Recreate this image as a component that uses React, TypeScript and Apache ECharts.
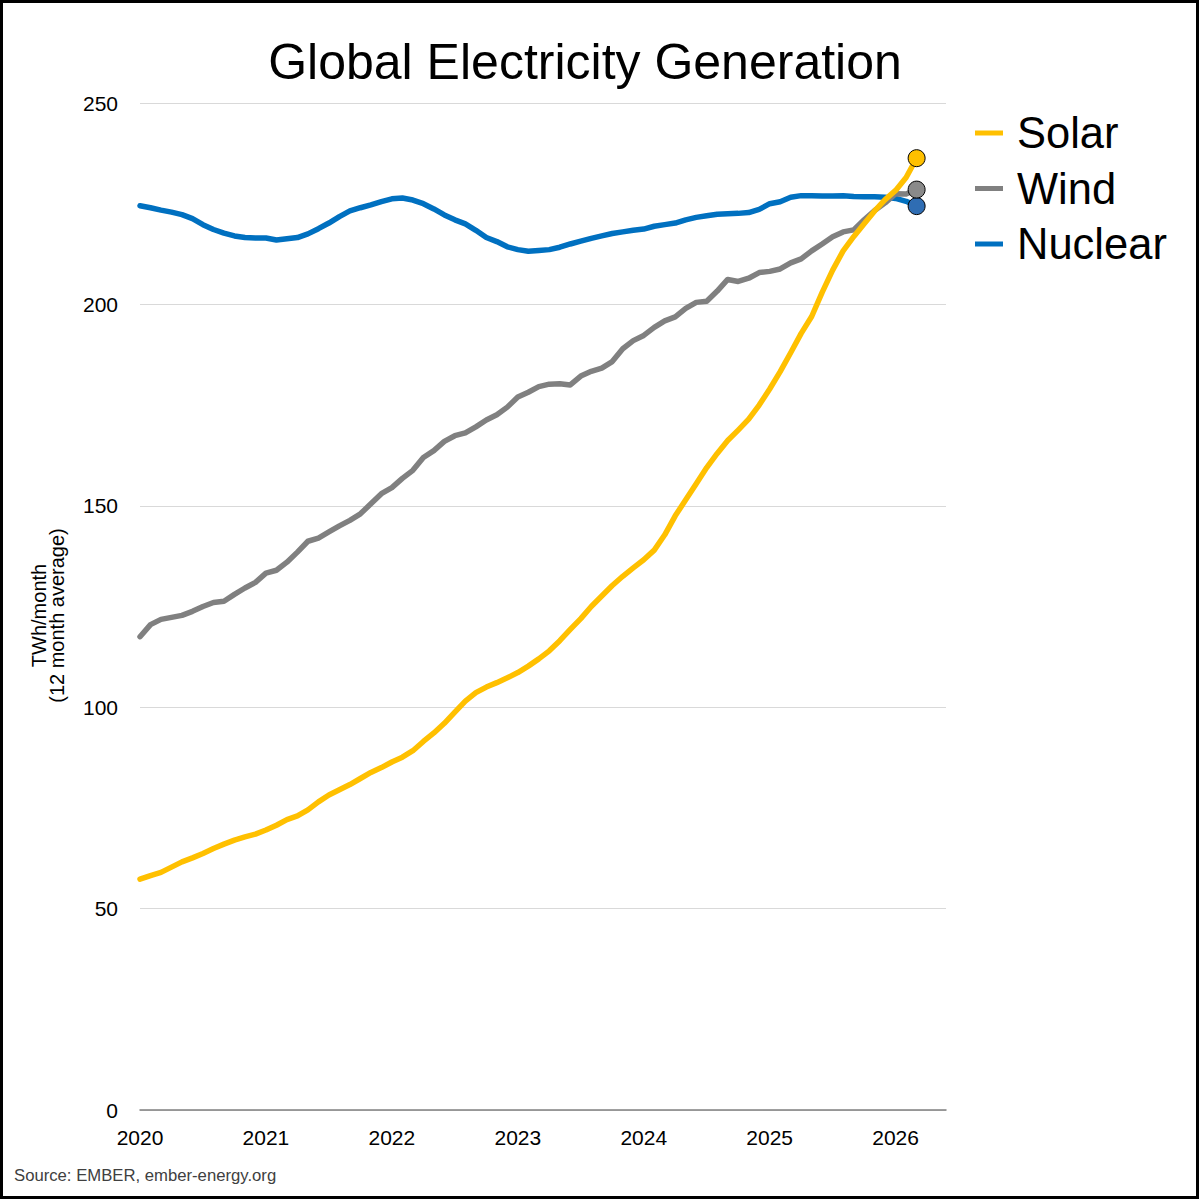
import React, { useEffect, useRef } from "react";
import * as echarts from "echarts";

// Monthly points, Jan 2020 – Mar 2026
const months: string[] = [];
for (let y = 2020; y <= 2026; y++) {
  for (let m = 1; m <= 12; m++) {
    if (months.length < 75) months.push(`${y}-${String(m).padStart(2, "0")}`);
  }
}

const yearTicks = [2020, 2021, 2022, 2023, 2024, 2025, 2026];

const solar = [
  57.3, 58.2, 59.0, 60.3, 61.6, 62.6, 63.7, 64.9, 66.0, 67.0, 67.8, 68.5,
  69.5, 70.7, 72.1, 73.0, 74.5, 76.5, 78.2, 79.5, 80.8, 82.3, 83.8, 85.0,
  86.4, 87.6, 89.2, 91.5, 93.6, 96.0, 98.8, 101.5, 103.6, 105.0, 106.1, 107.3,
  108.6, 110.2, 112.0, 114.0, 116.5, 119.3, 122.0, 125.0, 127.6, 130.2, 132.5, 134.6,
  136.6, 139.0, 142.8, 147.5, 151.5, 155.5, 159.5, 163.0, 166.2, 168.8, 171.5, 175.0,
  179.0, 183.3, 188.0, 192.8, 197.0, 203.0, 208.5, 213.3, 216.8, 220.0, 223.2, 226.0,
  228.3, 231.5, 236.3,
];

const wind = [
  117.5, 120.5, 121.8, 122.3, 122.8, 123.8, 125.0, 126.0, 126.3, 128.0, 129.6, 131.0,
  133.3, 134.0, 136.0, 138.5, 141.2, 142.0, 143.5, 145.0, 146.4, 148.0, 150.5, 153.0,
  154.5, 156.8, 158.8, 162.0, 163.7, 166.0, 167.4, 168.1, 169.6, 171.3, 172.6, 174.5,
  177.0, 178.2, 179.6, 180.2, 180.3, 180.0, 182.2, 183.4, 184.2, 185.8, 189.0, 191.0,
  192.3, 194.3, 195.9, 196.9, 199.0, 200.5, 200.8, 203.3, 206.2, 205.7, 206.5, 207.9,
  208.2, 208.8, 210.3, 211.3, 213.3, 215.0, 216.8, 218.0, 218.5, 221.0, 223.3, 225.2,
  227.5, 227.4, 228.5,
];

const nuclear = [
  224.5, 224.0, 223.4, 222.9, 222.3, 221.3, 219.8, 218.6, 217.7, 217.0, 216.6, 216.5,
  216.5, 216.0, 216.3, 216.6, 217.5, 218.8, 220.2, 221.8, 223.2, 224.0, 224.7, 225.5,
  226.2, 226.4, 225.9, 225.0, 223.7, 222.2, 221.0, 220.0, 218.4, 216.6, 215.6, 214.3,
  213.6, 213.2, 213.4, 213.6, 214.2, 215.0, 215.7, 216.4, 217.0, 217.6, 218.0, 218.4,
  218.7, 219.4, 219.8, 220.2, 221.0, 221.6, 222.0, 222.4, 222.5, 222.6, 222.8, 223.6,
  225.0, 225.5, 226.6, 227.0, 227.0, 226.9, 226.9, 227.0, 226.8, 226.7, 226.7, 226.6,
  226.3, 225.6, 224.4,
];

const FONT = "'Liberation Sans', Arial, Helvetica, sans-serif";

function toYear(m: string): number {
  const [y, mo] = m.split("-").map(Number);
  return y + (mo - 1) / 12;
}

function buildData(values: number[], endColor: string) {
  return values.map((v, i) => {
    const point: any = { value: [toYear(months[i]), v] };
    if (i === values.length - 1) {
      point.symbol = "circle";
      point.symbolSize = 17;
      point.itemStyle = { color: endColor, borderColor: "#000", borderWidth: 1 };
    }
    return point;
  });
}

export default function App() {
  const ref = useRef<HTMLDivElement>(null);

  useEffect(() => {
    if (!ref.current) return;
    const chart = echarts.init(ref.current, undefined, { renderer: "svg" });

    const lineSeries = (name: string, values: number[], color: string, endColor: string, z: number) => ({
      name,
      type: "line",
      data: buildData(values, endColor),
      symbol: "none",
      showSymbol: true,
      smooth: false,
      z,
      lineStyle: { color, width: 5.5, cap: "round", join: "round" },
      itemStyle: { color },
      emphasis: { disabled: true },
    });

    chart.setOption({
      animation: false,
      backgroundColor: "#ffffff",
      textStyle: { fontFamily: FONT },
      grid: { left: 140, right: 254, top: 103, bottom: 90, containLabel: false },
      legend: {
        orient: "vertical",
        left: 970,
        top: 106,
        data: ["Solar", "Wind", "Nuclear"],
        icon: "rect",
        itemWidth: 28,
        itemHeight: 5,
        itemGap: 11.5,
        textStyle: {
          fontFamily: FONT,
          fontSize: 43.5,
          color: "#000",
          lineHeight: 44,
          padding: [0, 0, 0, 9],
        },
        selectedMode: false,
      },
      xAxis: {
        type: "value",
        min: 2020,
        max: 2026.4,
        interval: 1,
        axisLine: { show: true, lineStyle: { color: "#808080", width: 1.5 } },
        axisTick: { show: false },
        splitLine: { show: false },
        axisLabel: {
          showMaxLabel: false,
          margin: 17,
          fontFamily: FONT,
          fontSize: 21,
          color: "#000",
          formatter: (v: number) => (yearTicks.includes(v) ? String(v) : ""),
        },
      },
      yAxis: {
        type: "value",
        min: 0,
        max: 250,
        interval: 50,
        name: "TWh/month\n(12 month average)",
        nameLocation: "middle",
        nameRotate: 90,
        nameGap: 74,
        nameTextStyle: {
          fontFamily: FONT,
          fontSize: 20,
          color: "#000",
          lineHeight: 18,
          padding: [0, 18, 0, 0],
        },
        axisLine: { show: false },
        axisTick: { show: false },
        splitLine: { show: true, lineStyle: { color: "#d9d9d9", width: 1 } },
        axisLabel: { margin: 22, fontFamily: FONT, fontSize: 21, color: "#000" },
      },
      series: [
        lineSeries("Nuclear", nuclear, "#0070C0", "#2F6DB3", 2),
        lineSeries("Wind", wind, "#808080", "#8A8A8A", 3),
        lineSeries("Solar", solar, "#FFC000", "#FFC000", 4),
      ],
      graphic: [
        {
          type: "rect",
          shape: { x: 1.5, y: 1.5, width: 1196, height: 1196 },
          style: { fill: "none", stroke: "#000", lineWidth: 3 },
          silent: true,
        },
        {
          type: "text",
          x: 585,
          y: 62,
          style: {
            text: "Global Electricity Generation",
            fontFamily: FONT,
            fontSize: 50,
            fill: "#000",
            align: "center",
            verticalAlign: "middle",
          },
        },
        {
          type: "text",
          x: 14,
          y: 1175,
          style: {
            text: "Source: EMBER, ember-energy.org",
            fontFamily: FONT,
            fontSize: 16.7,
            fill: "#404040",
            align: "left",
            verticalAlign: "middle",
          },
        },
      ],
    });

    return () => chart.dispose();
  }, []);

  return (
    <div
      ref={ref}
      style={{ position: "absolute", left: 0, top: 0, width: 1200, height: 1200, background: "#fff" }}
    />
  );
}
